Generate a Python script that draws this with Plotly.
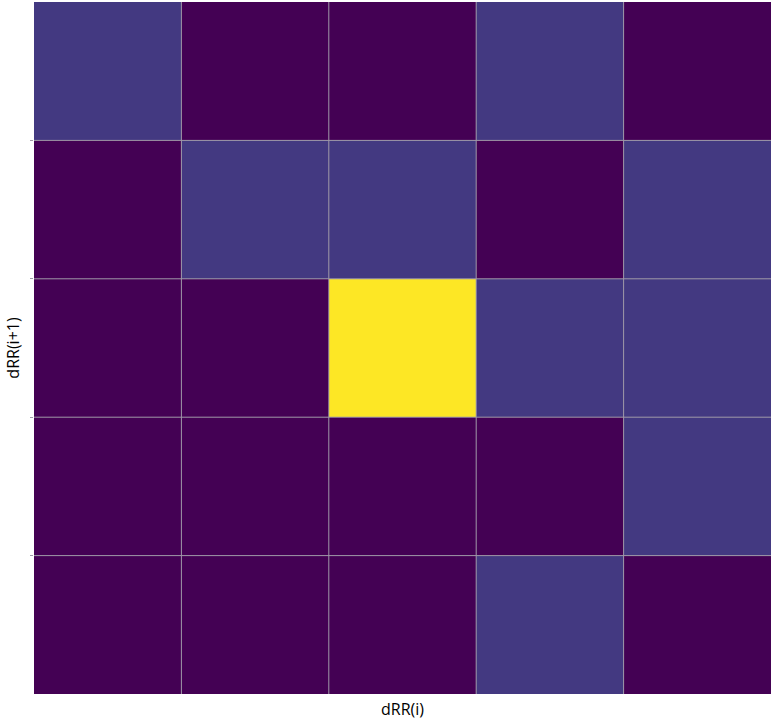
import numpy as np
import plotly.graph_objects as go

# 5x5 transition counts, rows top -> bottom
bins = [0, 1, 2, 3, 4]
counts = [
    [1, 0, 0, 1, 0],
    [0, 1, 1, 0, 1],
    [0, 0, 6, 1, 1],
    [0, 0, 0, 0, 1],
    [0, 0, 0, 1, 0],
]

fig = go.Figure(go.Heatmap(
    z=counts, x=bins, y=bins,
    colorscale="Viridis", zmin=0, zmax=6,
    showscale=False,
))

# cell borders
edges = np.array(bins[:-1]) + 0.5
for e in edges:
    fig.add_shape(type="line", x0=e, x1=e, y0=-0.5, y1=len(bins) - 0.5,
                  line=dict(color="#a09aa8", width=1))
    fig.add_shape(type="line", y0=e, y1=e, x0=-0.5, x1=len(bins) - 0.5,
                  line=dict(color="#a09aa8", width=1))

fig.update_xaxes(title=dict(text="dRR(i)", standoff=9), showgrid=False,
                 zeroline=False, showticklabels=False, ticks="",
                 range=[-0.5, 4.5], automargin=False)
fig.update_yaxes(title=dict(text="dRR(i+1)", standoff=6), showgrid=False,
                 zeroline=False, showticklabels=False, ticks="outside",
                 tickvals=list(edges), ticklen=3, tickcolor="#a09aa8",
                 range=[4.5, -0.5], automargin=False)

fig.update_layout(
    width=773, height=728,
    margin=dict(l=34, r=2, t=2, b=34),
    plot_bgcolor="white", paper_bgcolor="white",
    font=dict(family="Open Sans, DejaVu Sans", size=13, color="#000"),
)

# page has a default 8px body margin; drop it so the figure sits at 0,0
fig.write_html("out.html", config={"displayModeBar": False},
               post_script="document.body.style.margin='0';")
